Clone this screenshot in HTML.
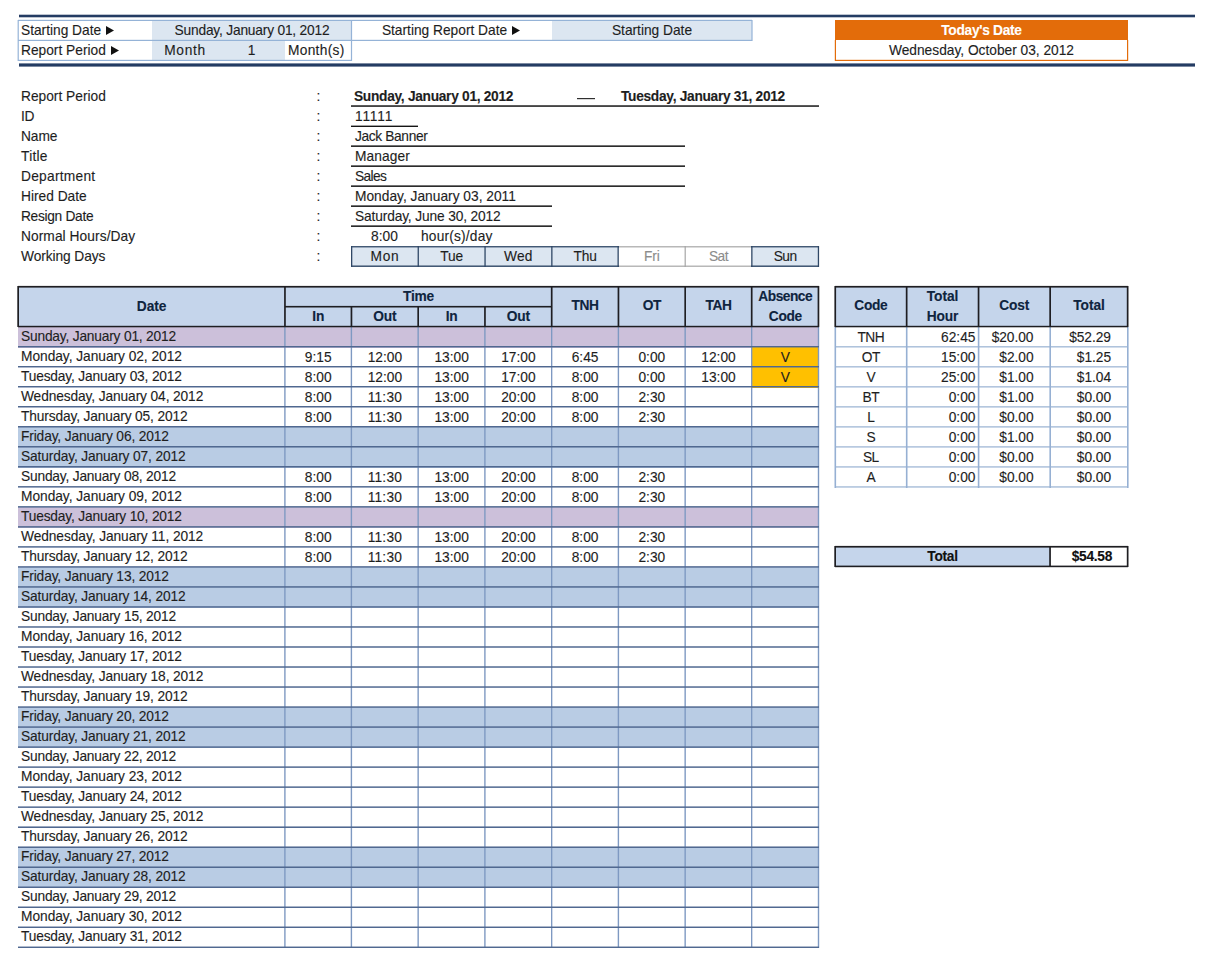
<!DOCTYPE html>
<html><head><meta charset="utf-8"><style>
html,body{margin:0;padding:0;background:#fff;}
body{width:1209px;height:970px;position:relative;overflow:hidden;font-family:"Liberation Sans",sans-serif;font-size:13.75px;color:#1e1e1e;}
body>div,body>svg{position:absolute;}
.t{white-space:nowrap;-webkit-text-stroke:0.12px currentColor;}
</style></head><body>
<div style="left:19px;top:14px;width:1176px;height:1px;background:rgba(36,60,99,0.30);"></div>
<div style="left:19px;top:15px;width:1176px;height:1px;background:#243c63;"></div>
<div style="left:19px;top:16px;width:1176px;height:1px;background:#243c63;"></div>
<div style="left:19px;top:17px;width:1176px;height:1px;background:rgba(36,60,99,0.30);"></div>
<div style="left:19px;top:63px;width:1176px;height:1px;background:rgba(36,60,99,0.60);"></div>
<div style="left:19px;top:64px;width:1176px;height:1px;background:#243c63;"></div>
<div style="left:19px;top:65px;width:1176px;height:1px;background:#243c63;"></div>
<div style="left:19px;top:66px;width:1176px;height:1px;background:rgba(36,60,99,0.60);"></div>
<div style="left:152px;top:21px;width:200px;height:19px;background:#dce6f1;"></div>
<div style="left:152px;top:41px;width:133px;height:19px;background:#dce6f1;"></div>
<div style="left:552px;top:21px;width:200px;height:19px;background:#dce6f1;"></div>
<div style="left:18px;top:19px;width:734px;height:1px;background:rgba(149,179,215,0.20);"></div>
<div style="left:18px;top:20px;width:734px;height:1px;background:#95b3d7;"></div>
<div style="left:18px;top:39px;width:734px;height:1px;background:rgba(149,179,215,0.20);"></div>
<div style="left:18px;top:40px;width:734px;height:1px;background:#95b3d7;"></div>
<div style="left:18px;top:59px;width:334px;height:1px;background:rgba(149,179,215,0.20);"></div>
<div style="left:18px;top:60px;width:334px;height:1px;background:#95b3d7;"></div>
<div style="left:17px;top:20px;width:1px;height:41px;background:rgba(149,179,215,0.40);"></div>
<div style="left:18px;top:20px;width:1px;height:41px;background:rgba(149,179,215,0.80);"></div>
<div style="left:350px;top:20px;width:1px;height:41px;background:rgba(149,179,215,0.10);"></div>
<div style="left:351px;top:20px;width:1px;height:41px;background:#95b3d7;"></div>
<div style="left:352px;top:20px;width:1px;height:41px;background:rgba(149,179,215,0.10);"></div>
<div style="left:751px;top:20px;width:1px;height:21px;background:rgba(149,179,215,0.60);"></div>
<div style="left:752px;top:20px;width:1px;height:21px;background:rgba(149,179,215,0.60);"></div>
<div class="t" style="left:21px;top:21px;width:200px;height:20px;line-height:20px;text-align:left;letter-spacing:-0.010px;">Starting Date</div>
<svg style="left:106px;top:26px" width="8" height="9" viewBox="0 0 8 9"><path d="M0 0L8 4.5L0 9Z" fill="#111"/></svg>
<div class="t" style="left:21px;top:41px;width:200px;height:20px;line-height:20px;text-align:left;letter-spacing:-0.001px;">Report Period</div>
<svg style="left:111px;top:46px" width="8" height="9" viewBox="0 0 8 9"><path d="M0 0L8 4.5L0 9Z" fill="#111"/></svg>
<div class="t" style="left:152px;top:21px;width:200px;height:20px;line-height:20px;text-align:center;letter-spacing:-0.192px;">Sunday, January 01, 2012</div>
<div class="t" style="left:152px;top:41px;width:66px;height:20px;line-height:20px;text-align:center;letter-spacing:0.671px;">Month</div>
<div class="t" style="left:218px;top:41px;width:67px;height:20px;line-height:20px;text-align:center;letter-spacing:-0.044px;">1</div>
<div class="t" style="left:288px;top:41px;width:70px;height:20px;line-height:20px;text-align:left;letter-spacing:0.288px;">Month(s)</div>
<div class="t" style="left:352px;top:21px;width:185px;height:20px;line-height:20px;text-align:center;letter-spacing:-0.005px;">Starting Report Date</div>
<svg style="left:512px;top:26px" width="8" height="9" viewBox="0 0 8 9"><path d="M0 0L8 4.5L0 9Z" fill="#111"/></svg>
<div class="t" style="left:552px;top:21px;width:200px;height:20px;line-height:20px;text-align:center;letter-spacing:-0.010px;">Starting Date</div>
<div style="left:835px;top:20px;width:293px;height:20px;background:#e36c0a;"></div>
<div style="left:834px;top:40px;width:1px;height:21px;background:rgba(227,108,10,0.20);"></div>
<div style="left:835px;top:40px;width:1px;height:21px;background:#e36c0a;"></div>
<div style="left:1127px;top:40px;width:1px;height:21px;background:#e36c0a;"></div>
<div style="left:1128px;top:40px;width:1px;height:21px;background:rgba(227,108,10,0.20);"></div>
<div style="left:835px;top:59px;width:293px;height:1px;background:rgba(227,108,10,0.20);"></div>
<div style="left:835px;top:60px;width:293px;height:1px;background:#e36c0a;"></div>
<div class="t" style="left:835px;top:21px;width:293px;height:20px;line-height:20px;text-align:center;font-weight:bold;color:#ffffff;letter-spacing:-0.300px;">Today's Date</div>
<div class="t" style="left:835px;top:41px;width:293px;height:20px;line-height:20px;text-align:center;letter-spacing:-0.008px;">Wednesday, October 03, 2012</div>
<div class="t" style="left:21px;top:87px;width:260px;height:20px;line-height:20px;text-align:left;letter-spacing:-0.001px;">Report Period</div>
<div class="t" style="left:285px;top:87px;width:67px;height:20px;line-height:20px;text-align:center;letter-spacing:0.191px;">:</div>
<div class="t" style="left:21px;top:107px;width:260px;height:20px;line-height:20px;text-align:left;letter-spacing:-0.363px;">ID</div>
<div class="t" style="left:285px;top:107px;width:67px;height:20px;line-height:20px;text-align:center;letter-spacing:0.191px;">:</div>
<div class="t" style="left:21px;top:127px;width:260px;height:20px;line-height:20px;text-align:left;letter-spacing:-0.082px;">Name</div>
<div class="t" style="left:285px;top:127px;width:67px;height:20px;line-height:20px;text-align:center;letter-spacing:0.191px;">:</div>
<div class="t" style="left:21px;top:147px;width:260px;height:20px;line-height:20px;text-align:left;letter-spacing:0.249px;">Title</div>
<div class="t" style="left:285px;top:147px;width:67px;height:20px;line-height:20px;text-align:center;letter-spacing:0.191px;">:</div>
<div class="t" style="left:21px;top:167px;width:260px;height:20px;line-height:20px;text-align:left;letter-spacing:0.261px;">Department</div>
<div class="t" style="left:285px;top:167px;width:67px;height:20px;line-height:20px;text-align:center;letter-spacing:0.191px;">:</div>
<div class="t" style="left:21px;top:187px;width:260px;height:20px;line-height:20px;text-align:left;letter-spacing:0.000px;">Hired Date</div>
<div class="t" style="left:285px;top:187px;width:67px;height:20px;line-height:20px;text-align:center;letter-spacing:0.191px;">:</div>
<div class="t" style="left:21px;top:207px;width:260px;height:20px;line-height:20px;text-align:left;letter-spacing:-0.312px;">Resign Date</div>
<div class="t" style="left:285px;top:207px;width:67px;height:20px;line-height:20px;text-align:center;letter-spacing:0.191px;">:</div>
<div class="t" style="left:21px;top:227px;width:260px;height:20px;line-height:20px;text-align:left;letter-spacing:0.069px;">Normal Hours/Day</div>
<div class="t" style="left:285px;top:227px;width:67px;height:20px;line-height:20px;text-align:center;letter-spacing:0.191px;">:</div>
<div class="t" style="left:21px;top:247px;width:260px;height:20px;line-height:20px;text-align:left;letter-spacing:-0.089px;">Working Days</div>
<div class="t" style="left:285px;top:247px;width:67px;height:20px;line-height:20px;text-align:center;letter-spacing:0.191px;">:</div>
<div class="t" style="left:354px;top:87px;width:200px;height:20px;line-height:20px;text-align:left;font-weight:bold;letter-spacing:-0.300px;">Sunday, January 01, 2012</div>
<div style="left:577px;top:98px;width:18px;height:1px;background:#303030;"></div>
<div style="left:577px;top:99px;width:18px;height:1px;background:rgba(48,48,48,0.20);"></div>
<div class="t" style="left:621px;top:87px;width:200px;height:20px;line-height:20px;text-align:left;font-weight:bold;letter-spacing:-0.300px;">Tuesday, January 31, 2012</div>
<div style="left:351px;top:105px;width:468px;height:1px;background:rgba(21,21,21,0.70);"></div>
<div style="left:351px;top:106px;width:468px;height:1px;background:rgba(21,21,21,0.80);"></div>
<div class="t" style="left:355px;top:107px;width:100px;height:20px;line-height:20px;text-align:left;letter-spacing:0.781px;">11111</div>
<div style="left:351px;top:125px;width:67px;height:1px;background:rgba(21,21,21,0.40);"></div>
<div style="left:351px;top:126px;width:67px;height:1px;background:#151515;"></div>
<div class="t" style="left:355px;top:127px;width:300px;height:20px;line-height:20px;text-align:left;letter-spacing:-0.366px;">Jack Banner</div>
<div style="left:351px;top:145px;width:334px;height:1px;background:rgba(21,21,21,0.60);"></div>
<div style="left:351px;top:146px;width:334px;height:1px;background:rgba(21,21,21,0.90);"></div>
<div class="t" style="left:355px;top:147px;width:300px;height:20px;line-height:20px;text-align:left;letter-spacing:0.088px;">Manager</div>
<div style="left:351px;top:165px;width:334px;height:1px;background:rgba(21,21,21,0.60);"></div>
<div style="left:351px;top:166px;width:334px;height:1px;background:rgba(21,21,21,0.90);"></div>
<div class="t" style="left:355px;top:167px;width:300px;height:20px;line-height:20px;text-align:left;letter-spacing:-0.600px;">Sales</div>
<div style="left:351px;top:185px;width:334px;height:1px;background:rgba(21,21,21,0.60);"></div>
<div style="left:351px;top:186px;width:334px;height:1px;background:rgba(21,21,21,0.90);"></div>
<div class="t" style="left:355px;top:187px;width:300px;height:20px;line-height:20px;text-align:left;letter-spacing:0.004px;">Monday, January 03, 2011</div>
<div style="left:351px;top:205px;width:201px;height:1px;background:rgba(21,21,21,0.60);"></div>
<div style="left:351px;top:206px;width:201px;height:1px;background:rgba(21,21,21,0.90);"></div>
<div class="t" style="left:355px;top:207px;width:300px;height:20px;line-height:20px;text-align:left;letter-spacing:-0.143px;">Saturday, June 30, 2012</div>
<div style="left:351px;top:225px;width:201px;height:1px;background:rgba(21,21,21,0.60);"></div>
<div style="left:351px;top:226px;width:201px;height:1px;background:rgba(21,21,21,0.90);"></div>
<div class="t" style="left:351px;top:227px;width:67px;height:20px;line-height:20px;text-align:center;letter-spacing:0.022px;">8:00</div>
<div class="t" style="left:421px;top:227px;width:150px;height:20px;line-height:20px;text-align:left;letter-spacing:0.187px;">hour(s)/day</div>
<div style="left:352px;top:247px;width:66px;height:19px;background:#dce6f1;"></div>
<div class="t" style="left:351.5px;top:247px;width:66.75px;height:20px;line-height:20px;text-align:center;letter-spacing:0.634px;">Mon</div>
<div style="left:418px;top:247px;width:67px;height:19px;background:#dce6f1;"></div>
<div class="t" style="left:418.25px;top:247px;width:66.75px;height:20px;line-height:20px;text-align:center;letter-spacing:-0.168px;">Tue</div>
<div style="left:485px;top:247px;width:67px;height:19px;background:#dce6f1;"></div>
<div class="t" style="left:485px;top:247px;width:66.75px;height:20px;line-height:20px;text-align:center;letter-spacing:0.231px;">Wed</div>
<div style="left:552px;top:247px;width:66px;height:19px;background:#dce6f1;"></div>
<div class="t" style="left:551.75px;top:247px;width:66.75px;height:20px;line-height:20px;text-align:center;letter-spacing:-0.201px;">Thu</div>
<div class="t" style="left:618.5px;top:247px;width:66.75px;height:20px;line-height:20px;text-align:center;color:#8c8c8c;letter-spacing:-0.154px;">Fri</div>
<div class="t" style="left:685.25px;top:247px;width:66.5px;height:20px;line-height:20px;text-align:center;color:#8c8c8c;letter-spacing:-0.505px;">Sat</div>
<div style="left:752px;top:247px;width:66px;height:19px;background:#dce6f1;"></div>
<div class="t" style="left:751.75px;top:247px;width:66.75px;height:20px;line-height:20px;text-align:center;letter-spacing:-0.595px;">Sun</div>
<div style="left:618px;top:246px;width:134px;height:1px;background:rgba(166,166,166,0.80);"></div>
<div style="left:618px;top:247px;width:134px;height:1px;background:rgba(166,166,166,0.40);"></div>
<div style="left:618px;top:265px;width:134px;height:1px;background:rgba(166,166,166,0.40);"></div>
<div style="left:618px;top:266px;width:134px;height:1px;background:rgba(166,166,166,0.80);"></div>
<div style="left:684px;top:246px;width:1px;height:21px;background:rgba(166,166,166,0.40);"></div>
<div style="left:685px;top:246px;width:1px;height:21px;background:rgba(166,166,166,0.80);"></div>
<div style="left:351px;top:246px;width:268px;height:1px;background:rgba(47,71,102,0.90);"></div>
<div style="left:351px;top:247px;width:268px;height:1px;background:rgba(47,71,102,0.40);"></div>
<div style="left:351px;top:265px;width:268px;height:1px;background:rgba(47,71,102,0.50);"></div>
<div style="left:351px;top:266px;width:268px;height:1px;background:rgba(47,71,102,0.90);"></div>
<div style="left:351px;top:246px;width:1px;height:21px;background:#2f4766;"></div>
<div style="left:352px;top:246px;width:1px;height:21px;background:rgba(47,71,102,0.30);"></div>
<div style="left:417px;top:246px;width:1px;height:21px;background:rgba(47,71,102,0.40);"></div>
<div style="left:418px;top:246px;width:1px;height:21px;background:rgba(47,71,102,0.90);"></div>
<div style="left:484px;top:246px;width:1px;height:21px;background:rgba(47,71,102,0.60);"></div>
<div style="left:485px;top:246px;width:1px;height:21px;background:rgba(47,71,102,0.70);"></div>
<div style="left:551px;top:246px;width:1px;height:21px;background:rgba(47,71,102,0.80);"></div>
<div style="left:552px;top:246px;width:1px;height:21px;background:rgba(47,71,102,0.50);"></div>
<div style="left:617px;top:246px;width:1px;height:21px;background:rgba(47,71,102,0.50);"></div>
<div style="left:618px;top:246px;width:1px;height:21px;background:rgba(47,71,102,0.80);"></div>
<div style="left:751px;top:246px;width:68px;height:1px;background:rgba(47,71,102,0.90);"></div>
<div style="left:751px;top:247px;width:68px;height:1px;background:rgba(47,71,102,0.40);"></div>
<div style="left:751px;top:265px;width:68px;height:1px;background:rgba(47,71,102,0.50);"></div>
<div style="left:751px;top:266px;width:68px;height:1px;background:rgba(47,71,102,0.90);"></div>
<div style="left:751px;top:246px;width:1px;height:21px;background:rgba(47,71,102,0.80);"></div>
<div style="left:752px;top:246px;width:1px;height:21px;background:rgba(47,71,102,0.50);"></div>
<div style="left:817px;top:246px;width:1px;height:21px;background:rgba(47,71,102,0.20);"></div>
<div style="left:818px;top:246px;width:1px;height:21px;background:#2f4766;"></div>
<div style="left:819px;top:246px;width:1px;height:21px;background:rgba(47,71,102,0.10);"></div>
<div style="left:18px;top:287px;width:801px;height:40px;background:#c5d5eb;"></div>
<div style="left:18px;top:327px;width:801px;height:21px;background:#ccc0da;"></div>
<div style="left:18px;top:427px;width:801px;height:21px;background:#b9cce4;"></div>
<div style="left:18px;top:447px;width:801px;height:21px;background:#b9cce4;"></div>
<div style="left:18px;top:507px;width:801px;height:21px;background:#ccc0da;"></div>
<div style="left:18px;top:567px;width:801px;height:21px;background:#b9cce4;"></div>
<div style="left:18px;top:587px;width:801px;height:21px;background:#b9cce4;"></div>
<div style="left:18px;top:707px;width:801px;height:21px;background:#b9cce4;"></div>
<div style="left:18px;top:727px;width:801px;height:21px;background:#b9cce4;"></div>
<div style="left:18px;top:847px;width:801px;height:21px;background:#b9cce4;"></div>
<div style="left:18px;top:867px;width:801px;height:21px;background:#b9cce4;"></div>
<div style="left:752px;top:347px;width:66px;height:21px;background:#ffc000;"></div>
<div style="left:752px;top:367px;width:66px;height:21px;background:#ffc000;"></div>
<div style="left:284px;top:327px;width:1px;height:621px;background:rgba(126,153,194,0.80);"></div>
<div style="left:285px;top:327px;width:1px;height:621px;background:rgba(126,153,194,0.60);"></div>
<div style="left:350px;top:327px;width:1px;height:621px;background:rgba(126,153,194,0.30);"></div>
<div style="left:351px;top:327px;width:1px;height:621px;background:#7e99c2;"></div>
<div style="left:352px;top:327px;width:1px;height:621px;background:rgba(126,153,194,0.10);"></div>
<div style="left:417px;top:327px;width:1px;height:621px;background:rgba(126,153,194,0.55);"></div>
<div style="left:418px;top:327px;width:1px;height:621px;background:rgba(126,153,194,0.85);"></div>
<div style="left:484px;top:327px;width:1px;height:621px;background:rgba(126,153,194,0.80);"></div>
<div style="left:485px;top:327px;width:1px;height:621px;background:rgba(126,153,194,0.60);"></div>
<div style="left:551px;top:327px;width:1px;height:621px;background:#7e99c2;"></div>
<div style="left:552px;top:327px;width:1px;height:621px;background:rgba(126,153,194,0.35);"></div>
<div style="left:617px;top:327px;width:1px;height:621px;background:rgba(126,153,194,0.30);"></div>
<div style="left:618px;top:327px;width:1px;height:621px;background:#7e99c2;"></div>
<div style="left:619px;top:327px;width:1px;height:621px;background:rgba(126,153,194,0.10);"></div>
<div style="left:684px;top:327px;width:1px;height:621px;background:rgba(126,153,194,0.55);"></div>
<div style="left:685px;top:327px;width:1px;height:621px;background:rgba(126,153,194,0.85);"></div>
<div style="left:751px;top:327px;width:1px;height:621px;background:#7e99c2;"></div>
<div style="left:752px;top:327px;width:1px;height:621px;background:rgba(126,153,194,0.35);"></div>
<div style="left:817px;top:327px;width:1px;height:621px;background:rgba(126,153,194,0.20);"></div>
<div style="left:818px;top:327px;width:1px;height:621px;background:#7e99c2;"></div>
<div style="left:819px;top:327px;width:1px;height:621px;background:rgba(126,153,194,0.20);"></div>
<div style="left:18px;top:346px;width:801px;height:1px;background:#506890;"></div>
<div style="left:18px;top:347px;width:801px;height:1px;background:rgba(80,104,144,0.45);"></div>
<div style="left:18px;top:366px;width:801px;height:1px;background:#506890;"></div>
<div style="left:18px;top:367px;width:801px;height:1px;background:rgba(80,104,144,0.47);"></div>
<div style="left:18px;top:386px;width:801px;height:1px;background:#506890;"></div>
<div style="left:18px;top:387px;width:801px;height:1px;background:rgba(80,104,144,0.49);"></div>
<div style="left:18px;top:406px;width:801px;height:1px;background:#506890;"></div>
<div style="left:18px;top:407px;width:801px;height:1px;background:rgba(80,104,144,0.51);"></div>
<div style="left:18px;top:426px;width:801px;height:1px;background:#506890;"></div>
<div style="left:18px;top:427px;width:801px;height:1px;background:rgba(80,104,144,0.53);"></div>
<div style="left:18px;top:446px;width:801px;height:1px;background:#506890;"></div>
<div style="left:18px;top:447px;width:801px;height:1px;background:rgba(80,104,144,0.55);"></div>
<div style="left:18px;top:466px;width:801px;height:1px;background:#506890;"></div>
<div style="left:18px;top:467px;width:801px;height:1px;background:rgba(80,104,144,0.57);"></div>
<div style="left:18px;top:486px;width:801px;height:1px;background:rgba(80,104,144,0.91);"></div>
<div style="left:18px;top:487px;width:801px;height:1px;background:rgba(80,104,144,0.59);"></div>
<div style="left:18px;top:506px;width:801px;height:1px;background:rgba(80,104,144,0.89);"></div>
<div style="left:18px;top:507px;width:801px;height:1px;background:rgba(80,104,144,0.61);"></div>
<div style="left:18px;top:526px;width:801px;height:1px;background:rgba(80,104,144,0.87);"></div>
<div style="left:18px;top:527px;width:801px;height:1px;background:rgba(80,104,144,0.63);"></div>
<div style="left:18px;top:546px;width:801px;height:1px;background:rgba(80,104,144,0.85);"></div>
<div style="left:18px;top:547px;width:801px;height:1px;background:rgba(80,104,144,0.65);"></div>
<div style="left:18px;top:566px;width:801px;height:1px;background:rgba(80,104,144,0.83);"></div>
<div style="left:18px;top:567px;width:801px;height:1px;background:rgba(80,104,144,0.67);"></div>
<div style="left:18px;top:586px;width:801px;height:1px;background:rgba(80,104,144,0.81);"></div>
<div style="left:18px;top:587px;width:801px;height:1px;background:rgba(80,104,144,0.69);"></div>
<div style="left:18px;top:606px;width:801px;height:1px;background:rgba(80,104,144,0.79);"></div>
<div style="left:18px;top:607px;width:801px;height:1px;background:rgba(80,104,144,0.71);"></div>
<div style="left:18px;top:626px;width:801px;height:1px;background:rgba(80,104,144,0.77);"></div>
<div style="left:18px;top:627px;width:801px;height:1px;background:rgba(80,104,144,0.73);"></div>
<div style="left:18px;top:646px;width:801px;height:1px;background:rgba(80,104,144,0.75);"></div>
<div style="left:18px;top:647px;width:801px;height:1px;background:rgba(80,104,144,0.75);"></div>
<div style="left:18px;top:666px;width:801px;height:1px;background:rgba(80,104,144,0.73);"></div>
<div style="left:18px;top:667px;width:801px;height:1px;background:rgba(80,104,144,0.77);"></div>
<div style="left:18px;top:686px;width:801px;height:1px;background:rgba(80,104,144,0.71);"></div>
<div style="left:18px;top:687px;width:801px;height:1px;background:rgba(80,104,144,0.79);"></div>
<div style="left:18px;top:706px;width:801px;height:1px;background:rgba(80,104,144,0.69);"></div>
<div style="left:18px;top:707px;width:801px;height:1px;background:rgba(80,104,144,0.81);"></div>
<div style="left:18px;top:726px;width:801px;height:1px;background:rgba(80,104,144,0.67);"></div>
<div style="left:18px;top:727px;width:801px;height:1px;background:rgba(80,104,144,0.83);"></div>
<div style="left:18px;top:746px;width:801px;height:1px;background:rgba(80,104,144,0.65);"></div>
<div style="left:18px;top:747px;width:801px;height:1px;background:rgba(80,104,144,0.85);"></div>
<div style="left:18px;top:766px;width:801px;height:1px;background:rgba(80,104,144,0.63);"></div>
<div style="left:18px;top:767px;width:801px;height:1px;background:rgba(80,104,144,0.87);"></div>
<div style="left:18px;top:786px;width:801px;height:1px;background:rgba(80,104,144,0.61);"></div>
<div style="left:18px;top:787px;width:801px;height:1px;background:rgba(80,104,144,0.89);"></div>
<div style="left:18px;top:806px;width:801px;height:1px;background:rgba(80,104,144,0.59);"></div>
<div style="left:18px;top:807px;width:801px;height:1px;background:rgba(80,104,144,0.91);"></div>
<div style="left:18px;top:826px;width:801px;height:1px;background:rgba(80,104,144,0.57);"></div>
<div style="left:18px;top:827px;width:801px;height:1px;background:#506890;"></div>
<div style="left:18px;top:846px;width:801px;height:1px;background:rgba(80,104,144,0.55);"></div>
<div style="left:18px;top:847px;width:801px;height:1px;background:#506890;"></div>
<div style="left:18px;top:866px;width:801px;height:1px;background:rgba(80,104,144,0.53);"></div>
<div style="left:18px;top:867px;width:801px;height:1px;background:#506890;"></div>
<div style="left:18px;top:886px;width:801px;height:1px;background:rgba(80,104,144,0.51);"></div>
<div style="left:18px;top:887px;width:801px;height:1px;background:#506890;"></div>
<div style="left:18px;top:906px;width:801px;height:1px;background:rgba(80,104,144,0.49);"></div>
<div style="left:18px;top:907px;width:801px;height:1px;background:#506890;"></div>
<div style="left:18px;top:926px;width:801px;height:1px;background:rgba(80,104,144,0.47);"></div>
<div style="left:18px;top:927px;width:801px;height:1px;background:#506890;"></div>
<div style="left:18px;top:946px;width:801px;height:1px;background:rgba(80,104,144,0.45);"></div>
<div style="left:18px;top:947px;width:801px;height:1px;background:#506890;"></div>
<div style="left:18px;top:285px;width:801px;height:1px;background:rgba(30,30,34,0.10);"></div>
<div style="left:18px;top:286px;width:801px;height:1px;background:#1e1e22;"></div>
<div style="left:18px;top:287px;width:801px;height:1px;background:rgba(30,30,34,0.60);"></div>
<div style="left:18px;top:325px;width:801px;height:1px;background:rgba(30,30,34,0.20);"></div>
<div style="left:18px;top:326px;width:801px;height:1px;background:#1e1e22;"></div>
<div style="left:18px;top:327px;width:801px;height:1px;background:rgba(30,30,34,0.30);"></div>
<div style="left:285px;top:305px;width:267px;height:1px;background:rgba(30,30,34,0.10);"></div>
<div style="left:285px;top:306px;width:267px;height:1px;background:#1e1e22;"></div>
<div style="left:285px;top:307px;width:267px;height:1px;background:rgba(30,30,34,0.50);"></div>
<div style="left:17px;top:286px;width:1px;height:41px;background:rgba(30,30,34,0.70);"></div>
<div style="left:18px;top:286px;width:1px;height:41px;background:#1e1e22;"></div>
<div style="left:817px;top:286px;width:1px;height:41px;background:rgba(30,30,34,0.40);"></div>
<div style="left:818px;top:286px;width:1px;height:41px;background:#1e1e22;"></div>
<div style="left:819px;top:286px;width:1px;height:41px;background:rgba(30,30,34,0.30);"></div>
<div style="left:284px;top:286px;width:1px;height:41px;background:rgba(30,30,34,0.90);"></div>
<div style="left:285px;top:286px;width:1px;height:41px;background:rgba(30,30,34,0.80);"></div>
<div style="left:550px;top:286px;width:1px;height:41px;background:rgba(30,30,34,0.15);"></div>
<div style="left:551px;top:286px;width:1px;height:41px;background:#1e1e22;"></div>
<div style="left:552px;top:286px;width:1px;height:41px;background:rgba(30,30,34,0.55);"></div>
<div style="left:617px;top:286px;width:1px;height:41px;background:rgba(30,30,34,0.40);"></div>
<div style="left:618px;top:286px;width:1px;height:41px;background:#1e1e22;"></div>
<div style="left:619px;top:286px;width:1px;height:41px;background:rgba(30,30,34,0.30);"></div>
<div style="left:684px;top:286px;width:1px;height:41px;background:rgba(30,30,34,0.65);"></div>
<div style="left:685px;top:286px;width:1px;height:41px;background:#1e1e22;"></div>
<div style="left:750px;top:286px;width:1px;height:41px;background:rgba(30,30,34,0.15);"></div>
<div style="left:751px;top:286px;width:1px;height:41px;background:#1e1e22;"></div>
<div style="left:752px;top:286px;width:1px;height:41px;background:rgba(30,30,34,0.55);"></div>
<div style="left:350px;top:306px;width:1px;height:21px;background:rgba(30,30,34,0.40);"></div>
<div style="left:351px;top:306px;width:1px;height:21px;background:#1e1e22;"></div>
<div style="left:352px;top:306px;width:1px;height:21px;background:rgba(30,30,34,0.30);"></div>
<div style="left:417px;top:306px;width:1px;height:21px;background:rgba(30,30,34,0.65);"></div>
<div style="left:418px;top:306px;width:1px;height:21px;background:#1e1e22;"></div>
<div style="left:484px;top:306px;width:1px;height:21px;background:rgba(30,30,34,0.90);"></div>
<div style="left:485px;top:306px;width:1px;height:21px;background:rgba(30,30,34,0.80);"></div>
<div class="t" style="left:18px;top:297px;width:267px;height:20px;line-height:20px;text-align:center;font-weight:bold;color:#0f243e;letter-spacing:-0.100px;">Date</div>
<div class="t" style="left:285px;top:287px;width:267px;height:20px;line-height:20px;text-align:center;font-weight:bold;color:#0f243e;letter-spacing:-0.200px;">Time</div>
<div class="t" style="left:285px;top:307px;width:66.5px;height:20px;line-height:20px;text-align:center;font-weight:bold;color:#0f243e;letter-spacing:-0.200px;">In</div>
<div class="t" style="left:351.5px;top:307px;width:66.75px;height:20px;line-height:20px;text-align:center;font-weight:bold;color:#0f243e;letter-spacing:-0.200px;">Out</div>
<div class="t" style="left:418.25px;top:307px;width:66.75px;height:20px;line-height:20px;text-align:center;font-weight:bold;color:#0f243e;letter-spacing:-0.200px;">In</div>
<div class="t" style="left:485px;top:307px;width:66.75px;height:20px;line-height:20px;text-align:center;font-weight:bold;color:#0f243e;letter-spacing:-0.200px;">Out</div>
<div class="t" style="left:551.75px;top:296px;width:66.75px;height:20px;line-height:20px;text-align:center;font-weight:bold;color:#0f243e;letter-spacing:-0.400px;">TNH</div>
<div class="t" style="left:618.5px;top:296px;width:66.75px;height:20px;line-height:20px;text-align:center;font-weight:bold;color:#0f243e;letter-spacing:-0.400px;">OT</div>
<div class="t" style="left:685.25px;top:296px;width:66.5px;height:20px;line-height:20px;text-align:center;font-weight:bold;color:#0f243e;letter-spacing:-0.400px;">TAH</div>
<div class="t" style="left:751.75px;top:287px;width:67px;height:20px;line-height:20px;text-align:center;font-weight:bold;color:#0f243e;letter-spacing:-0.500px;">Absence</div>
<div class="t" style="left:751.75px;top:307px;width:67px;height:20px;line-height:20px;text-align:center;font-weight:bold;color:#0f243e;letter-spacing:-0.400px;">Code</div>
<div class="t" style="left:21px;top:327px;width:260px;height:20px;line-height:20px;text-align:left;letter-spacing:-0.192px;">Sunday, January 01, 2012</div>
<div class="t" style="left:21px;top:347px;width:260px;height:20px;line-height:20px;text-align:left;letter-spacing:-0.039px;">Monday, January 02, 2012</div>
<div class="t" style="left:285px;top:348px;width:66.5px;height:20px;line-height:20px;text-align:center;letter-spacing:0.022px;">9:15</div>
<div class="t" style="left:351.5px;top:348px;width:66.75px;height:20px;line-height:20px;text-align:center;letter-spacing:0.009px;">12:00</div>
<div class="t" style="left:418.25px;top:348px;width:66.75px;height:20px;line-height:20px;text-align:center;letter-spacing:0.009px;">13:00</div>
<div class="t" style="left:485px;top:348px;width:66.75px;height:20px;line-height:20px;text-align:center;letter-spacing:0.009px;">17:00</div>
<div class="t" style="left:551.75px;top:348px;width:66.75px;height:20px;line-height:20px;text-align:center;letter-spacing:0.022px;">6:45</div>
<div class="t" style="left:618.5px;top:348px;width:66.75px;height:20px;line-height:20px;text-align:center;letter-spacing:0.022px;">0:00</div>
<div class="t" style="left:685.25px;top:348px;width:66.5px;height:20px;line-height:20px;text-align:center;letter-spacing:0.009px;">12:00</div>
<div class="t" style="left:751.75px;top:348px;width:66.75px;height:20px;line-height:20px;text-align:center;letter-spacing:-0.600px;">V</div>
<div class="t" style="left:21px;top:367px;width:260px;height:20px;line-height:20px;text-align:left;letter-spacing:-0.173px;">Tuesday, January 03, 2012</div>
<div class="t" style="left:285px;top:368px;width:66.5px;height:20px;line-height:20px;text-align:center;letter-spacing:0.022px;">8:00</div>
<div class="t" style="left:351.5px;top:368px;width:66.75px;height:20px;line-height:20px;text-align:center;letter-spacing:0.009px;">12:00</div>
<div class="t" style="left:418.25px;top:368px;width:66.75px;height:20px;line-height:20px;text-align:center;letter-spacing:0.009px;">13:00</div>
<div class="t" style="left:485px;top:368px;width:66.75px;height:20px;line-height:20px;text-align:center;letter-spacing:0.009px;">17:00</div>
<div class="t" style="left:551.75px;top:368px;width:66.75px;height:20px;line-height:20px;text-align:center;letter-spacing:0.022px;">8:00</div>
<div class="t" style="left:618.5px;top:368px;width:66.75px;height:20px;line-height:20px;text-align:center;letter-spacing:0.022px;">0:00</div>
<div class="t" style="left:685.25px;top:368px;width:66.5px;height:20px;line-height:20px;text-align:center;letter-spacing:0.009px;">13:00</div>
<div class="t" style="left:751.75px;top:368px;width:66.75px;height:20px;line-height:20px;text-align:center;letter-spacing:-0.600px;">V</div>
<div class="t" style="left:21px;top:387px;width:260px;height:20px;line-height:20px;text-align:left;letter-spacing:-0.113px;">Wednesday, January 04, 2012</div>
<div class="t" style="left:285px;top:388px;width:66.5px;height:20px;line-height:20px;text-align:center;letter-spacing:0.022px;">8:00</div>
<div class="t" style="left:351.5px;top:388px;width:66.75px;height:20px;line-height:20px;text-align:center;letter-spacing:0.215px;">11:30</div>
<div class="t" style="left:418.25px;top:388px;width:66.75px;height:20px;line-height:20px;text-align:center;letter-spacing:0.009px;">13:00</div>
<div class="t" style="left:485px;top:388px;width:66.75px;height:20px;line-height:20px;text-align:center;letter-spacing:0.009px;">20:00</div>
<div class="t" style="left:551.75px;top:388px;width:66.75px;height:20px;line-height:20px;text-align:center;letter-spacing:0.022px;">8:00</div>
<div class="t" style="left:618.5px;top:388px;width:66.75px;height:20px;line-height:20px;text-align:center;letter-spacing:0.022px;">2:30</div>
<div class="t" style="left:21px;top:407px;width:260px;height:20px;line-height:20px;text-align:left;letter-spacing:-0.145px;">Thursday, January 05, 2012</div>
<div class="t" style="left:285px;top:408px;width:66.5px;height:20px;line-height:20px;text-align:center;letter-spacing:0.022px;">8:00</div>
<div class="t" style="left:351.5px;top:408px;width:66.75px;height:20px;line-height:20px;text-align:center;letter-spacing:0.215px;">11:30</div>
<div class="t" style="left:418.25px;top:408px;width:66.75px;height:20px;line-height:20px;text-align:center;letter-spacing:0.009px;">13:00</div>
<div class="t" style="left:485px;top:408px;width:66.75px;height:20px;line-height:20px;text-align:center;letter-spacing:0.009px;">20:00</div>
<div class="t" style="left:551.75px;top:408px;width:66.75px;height:20px;line-height:20px;text-align:center;letter-spacing:0.022px;">8:00</div>
<div class="t" style="left:618.5px;top:408px;width:66.75px;height:20px;line-height:20px;text-align:center;letter-spacing:0.022px;">2:30</div>
<div class="t" style="left:21px;top:427px;width:260px;height:20px;line-height:20px;text-align:left;letter-spacing:-0.137px;">Friday, January 06, 2012</div>
<div class="t" style="left:21px;top:447px;width:260px;height:20px;line-height:20px;text-align:left;letter-spacing:-0.132px;">Saturday, January 07, 2012</div>
<div class="t" style="left:21px;top:467px;width:260px;height:20px;line-height:20px;text-align:left;letter-spacing:-0.192px;">Sunday, January 08, 2012</div>
<div class="t" style="left:285px;top:468px;width:66.5px;height:20px;line-height:20px;text-align:center;letter-spacing:0.022px;">8:00</div>
<div class="t" style="left:351.5px;top:468px;width:66.75px;height:20px;line-height:20px;text-align:center;letter-spacing:0.215px;">11:30</div>
<div class="t" style="left:418.25px;top:468px;width:66.75px;height:20px;line-height:20px;text-align:center;letter-spacing:0.009px;">13:00</div>
<div class="t" style="left:485px;top:468px;width:66.75px;height:20px;line-height:20px;text-align:center;letter-spacing:0.009px;">20:00</div>
<div class="t" style="left:551.75px;top:468px;width:66.75px;height:20px;line-height:20px;text-align:center;letter-spacing:0.022px;">8:00</div>
<div class="t" style="left:618.5px;top:468px;width:66.75px;height:20px;line-height:20px;text-align:center;letter-spacing:0.022px;">2:30</div>
<div class="t" style="left:21px;top:487px;width:260px;height:20px;line-height:20px;text-align:left;letter-spacing:-0.039px;">Monday, January 09, 2012</div>
<div class="t" style="left:285px;top:488px;width:66.5px;height:20px;line-height:20px;text-align:center;letter-spacing:0.022px;">8:00</div>
<div class="t" style="left:351.5px;top:488px;width:66.75px;height:20px;line-height:20px;text-align:center;letter-spacing:0.215px;">11:30</div>
<div class="t" style="left:418.25px;top:488px;width:66.75px;height:20px;line-height:20px;text-align:center;letter-spacing:0.009px;">13:00</div>
<div class="t" style="left:485px;top:488px;width:66.75px;height:20px;line-height:20px;text-align:center;letter-spacing:0.009px;">20:00</div>
<div class="t" style="left:551.75px;top:488px;width:66.75px;height:20px;line-height:20px;text-align:center;letter-spacing:0.022px;">8:00</div>
<div class="t" style="left:618.5px;top:488px;width:66.75px;height:20px;line-height:20px;text-align:center;letter-spacing:0.022px;">2:30</div>
<div class="t" style="left:21px;top:507px;width:260px;height:20px;line-height:20px;text-align:left;letter-spacing:-0.173px;">Tuesday, January 10, 2012</div>
<div class="t" style="left:21px;top:527px;width:260px;height:20px;line-height:20px;text-align:left;letter-spacing:-0.076px;">Wednesday, January 11, 2012</div>
<div class="t" style="left:285px;top:528px;width:66.5px;height:20px;line-height:20px;text-align:center;letter-spacing:0.022px;">8:00</div>
<div class="t" style="left:351.5px;top:528px;width:66.75px;height:20px;line-height:20px;text-align:center;letter-spacing:0.215px;">11:30</div>
<div class="t" style="left:418.25px;top:528px;width:66.75px;height:20px;line-height:20px;text-align:center;letter-spacing:0.009px;">13:00</div>
<div class="t" style="left:485px;top:528px;width:66.75px;height:20px;line-height:20px;text-align:center;letter-spacing:0.009px;">20:00</div>
<div class="t" style="left:551.75px;top:528px;width:66.75px;height:20px;line-height:20px;text-align:center;letter-spacing:0.022px;">8:00</div>
<div class="t" style="left:618.5px;top:528px;width:66.75px;height:20px;line-height:20px;text-align:center;letter-spacing:0.022px;">2:30</div>
<div class="t" style="left:21px;top:547px;width:260px;height:20px;line-height:20px;text-align:left;letter-spacing:-0.145px;">Thursday, January 12, 2012</div>
<div class="t" style="left:285px;top:548px;width:66.5px;height:20px;line-height:20px;text-align:center;letter-spacing:0.022px;">8:00</div>
<div class="t" style="left:351.5px;top:548px;width:66.75px;height:20px;line-height:20px;text-align:center;letter-spacing:0.215px;">11:30</div>
<div class="t" style="left:418.25px;top:548px;width:66.75px;height:20px;line-height:20px;text-align:center;letter-spacing:0.009px;">13:00</div>
<div class="t" style="left:485px;top:548px;width:66.75px;height:20px;line-height:20px;text-align:center;letter-spacing:0.009px;">20:00</div>
<div class="t" style="left:551.75px;top:548px;width:66.75px;height:20px;line-height:20px;text-align:center;letter-spacing:0.022px;">8:00</div>
<div class="t" style="left:618.5px;top:548px;width:66.75px;height:20px;line-height:20px;text-align:center;letter-spacing:0.022px;">2:30</div>
<div class="t" style="left:21px;top:567px;width:260px;height:20px;line-height:20px;text-align:left;letter-spacing:-0.137px;">Friday, January 13, 2012</div>
<div class="t" style="left:21px;top:587px;width:260px;height:20px;line-height:20px;text-align:left;letter-spacing:-0.132px;">Saturday, January 14, 2012</div>
<div class="t" style="left:21px;top:607px;width:260px;height:20px;line-height:20px;text-align:left;letter-spacing:-0.192px;">Sunday, January 15, 2012</div>
<div class="t" style="left:21px;top:627px;width:260px;height:20px;line-height:20px;text-align:left;letter-spacing:-0.039px;">Monday, January 16, 2012</div>
<div class="t" style="left:21px;top:647px;width:260px;height:20px;line-height:20px;text-align:left;letter-spacing:-0.173px;">Tuesday, January 17, 2012</div>
<div class="t" style="left:21px;top:667px;width:260px;height:20px;line-height:20px;text-align:left;letter-spacing:-0.113px;">Wednesday, January 18, 2012</div>
<div class="t" style="left:21px;top:687px;width:260px;height:20px;line-height:20px;text-align:left;letter-spacing:-0.145px;">Thursday, January 19, 2012</div>
<div class="t" style="left:21px;top:707px;width:260px;height:20px;line-height:20px;text-align:left;letter-spacing:-0.137px;">Friday, January 20, 2012</div>
<div class="t" style="left:21px;top:727px;width:260px;height:20px;line-height:20px;text-align:left;letter-spacing:-0.132px;">Saturday, January 21, 2012</div>
<div class="t" style="left:21px;top:747px;width:260px;height:20px;line-height:20px;text-align:left;letter-spacing:-0.192px;">Sunday, January 22, 2012</div>
<div class="t" style="left:21px;top:767px;width:260px;height:20px;line-height:20px;text-align:left;letter-spacing:-0.039px;">Monday, January 23, 2012</div>
<div class="t" style="left:21px;top:787px;width:260px;height:20px;line-height:20px;text-align:left;letter-spacing:-0.173px;">Tuesday, January 24, 2012</div>
<div class="t" style="left:21px;top:807px;width:260px;height:20px;line-height:20px;text-align:left;letter-spacing:-0.113px;">Wednesday, January 25, 2012</div>
<div class="t" style="left:21px;top:827px;width:260px;height:20px;line-height:20px;text-align:left;letter-spacing:-0.145px;">Thursday, January 26, 2012</div>
<div class="t" style="left:21px;top:847px;width:260px;height:20px;line-height:20px;text-align:left;letter-spacing:-0.137px;">Friday, January 27, 2012</div>
<div class="t" style="left:21px;top:867px;width:260px;height:20px;line-height:20px;text-align:left;letter-spacing:-0.132px;">Saturday, January 28, 2012</div>
<div class="t" style="left:21px;top:887px;width:260px;height:20px;line-height:20px;text-align:left;letter-spacing:-0.192px;">Sunday, January 29, 2012</div>
<div class="t" style="left:21px;top:907px;width:260px;height:20px;line-height:20px;text-align:left;letter-spacing:-0.039px;">Monday, January 30, 2012</div>
<div class="t" style="left:21px;top:927px;width:260px;height:20px;line-height:20px;text-align:left;letter-spacing:-0.173px;">Tuesday, January 31, 2012</div>
<div style="left:835px;top:287px;width:293px;height:40px;background:#c5d5eb;"></div>
<div style="left:835px;top:346px;width:293px;height:1px;background:rgba(166,188,216,0.90);"></div>
<div style="left:835px;top:347px;width:293px;height:1px;background:rgba(166,188,216,0.50);"></div>
<div style="left:835px;top:366px;width:293px;height:1px;background:rgba(166,188,216,0.88);"></div>
<div style="left:835px;top:367px;width:293px;height:1px;background:rgba(166,188,216,0.52);"></div>
<div style="left:835px;top:386px;width:293px;height:1px;background:rgba(166,188,216,0.86);"></div>
<div style="left:835px;top:387px;width:293px;height:1px;background:rgba(166,188,216,0.54);"></div>
<div style="left:835px;top:406px;width:293px;height:1px;background:rgba(166,188,216,0.84);"></div>
<div style="left:835px;top:407px;width:293px;height:1px;background:rgba(166,188,216,0.56);"></div>
<div style="left:835px;top:426px;width:293px;height:1px;background:rgba(166,188,216,0.82);"></div>
<div style="left:835px;top:427px;width:293px;height:1px;background:rgba(166,188,216,0.58);"></div>
<div style="left:835px;top:446px;width:293px;height:1px;background:rgba(166,188,216,0.80);"></div>
<div style="left:835px;top:447px;width:293px;height:1px;background:rgba(166,188,216,0.60);"></div>
<div style="left:835px;top:466px;width:293px;height:1px;background:rgba(166,188,216,0.78);"></div>
<div style="left:835px;top:467px;width:293px;height:1px;background:rgba(166,188,216,0.62);"></div>
<div style="left:835px;top:486px;width:293px;height:1px;background:rgba(166,188,216,0.76);"></div>
<div style="left:835px;top:487px;width:293px;height:1px;background:rgba(166,188,216,0.64);"></div>
<div style="left:834px;top:327px;width:1px;height:161px;background:rgba(150,176,211,0.50);"></div>
<div style="left:835px;top:327px;width:1px;height:161px;background:#96b0d3;"></div>
<div style="left:836px;top:327px;width:1px;height:161px;background:rgba(150,176,211,0.10);"></div>
<div style="left:905px;top:327px;width:1px;height:161px;background:rgba(150,176,211,0.10);"></div>
<div style="left:906px;top:327px;width:1px;height:161px;background:#96b0d3;"></div>
<div style="left:907px;top:327px;width:1px;height:161px;background:rgba(150,176,211,0.50);"></div>
<div style="left:977px;top:327px;width:1px;height:161px;background:rgba(150,176,211,0.20);"></div>
<div style="left:978px;top:327px;width:1px;height:161px;background:#96b0d3;"></div>
<div style="left:979px;top:327px;width:1px;height:161px;background:rgba(150,176,211,0.40);"></div>
<div style="left:1049px;top:327px;width:1px;height:161px;background:rgba(150,176,211,0.60);"></div>
<div style="left:1050px;top:327px;width:1px;height:161px;background:#96b0d3;"></div>
<div style="left:1127px;top:327px;width:1px;height:161px;background:#96b0d3;"></div>
<div style="left:1128px;top:327px;width:1px;height:161px;background:rgba(150,176,211,0.60);"></div>
<div style="left:835px;top:285px;width:293px;height:1px;background:rgba(30,30,34,0.10);"></div>
<div style="left:835px;top:286px;width:293px;height:1px;background:#1e1e22;"></div>
<div style="left:835px;top:287px;width:293px;height:1px;background:rgba(30,30,34,0.60);"></div>
<div style="left:835px;top:325px;width:293px;height:1px;background:rgba(30,30,34,0.20);"></div>
<div style="left:835px;top:326px;width:293px;height:1px;background:#1e1e22;"></div>
<div style="left:835px;top:327px;width:293px;height:1px;background:rgba(30,30,34,0.30);"></div>
<div style="left:834px;top:286px;width:1px;height:41px;background:rgba(30,30,34,0.60);"></div>
<div style="left:835px;top:286px;width:1px;height:41px;background:#1e1e22;"></div>
<div style="left:836px;top:286px;width:1px;height:41px;background:rgba(30,30,34,0.10);"></div>
<div style="left:905px;top:286px;width:1px;height:41px;background:rgba(30,30,34,0.20);"></div>
<div style="left:906px;top:286px;width:1px;height:41px;background:#1e1e22;"></div>
<div style="left:907px;top:286px;width:1px;height:41px;background:rgba(30,30,34,0.50);"></div>
<div style="left:977px;top:286px;width:1px;height:41px;background:rgba(30,30,34,0.30);"></div>
<div style="left:978px;top:286px;width:1px;height:41px;background:#1e1e22;"></div>
<div style="left:979px;top:286px;width:1px;height:41px;background:rgba(30,30,34,0.40);"></div>
<div style="left:1049px;top:286px;width:1px;height:41px;background:rgba(30,30,34,0.70);"></div>
<div style="left:1050px;top:286px;width:1px;height:41px;background:#1e1e22;"></div>
<div style="left:1126px;top:286px;width:1px;height:41px;background:rgba(30,30,34,0.20);"></div>
<div style="left:1127px;top:286px;width:1px;height:41px;background:#1e1e22;"></div>
<div style="left:1128px;top:286px;width:1px;height:41px;background:rgba(30,30,34,0.50);"></div>
<div class="t" style="left:835px;top:296px;width:71.5px;height:20px;line-height:20px;text-align:center;font-weight:bold;color:#0f243e;letter-spacing:-0.400px;">Code</div>
<div class="t" style="left:906.5px;top:287px;width:72px;height:20px;line-height:20px;text-align:center;font-weight:bold;color:#0f243e;letter-spacing:-0.100px;">Total</div>
<div class="t" style="left:906.5px;top:307px;width:72px;height:20px;line-height:20px;text-align:center;font-weight:bold;color:#0f243e;letter-spacing:-0.200px;">Hour</div>
<div class="t" style="left:978.5px;top:296px;width:71.5px;height:20px;line-height:20px;text-align:center;font-weight:bold;color:#0f243e;letter-spacing:-0.200px;">Cost</div>
<div class="t" style="left:1050px;top:296px;width:78px;height:20px;line-height:20px;text-align:center;font-weight:bold;color:#0f243e;letter-spacing:-0.100px;">Total</div>
<div class="t" style="left:835px;top:328px;width:71.5px;height:20px;line-height:20px;text-align:center;letter-spacing:-0.600px;">TNH</div>
<div class="t" style="left:906.5px;top:328px;width:69px;height:20px;line-height:20px;text-align:right;letter-spacing:0.009px;">62:45</div>
<div class="t" style="left:978.5px;top:328px;width:55px;height:20px;line-height:20px;text-align:right;letter-spacing:-0.035px;">$20.00</div>
<div class="t" style="left:1050px;top:328px;width:61px;height:20px;line-height:20px;text-align:right;letter-spacing:-0.035px;">$52.29</div>
<div class="t" style="left:835px;top:348px;width:71.5px;height:20px;line-height:20px;text-align:center;letter-spacing:-0.600px;">OT</div>
<div class="t" style="left:906.5px;top:348px;width:69px;height:20px;line-height:20px;text-align:right;letter-spacing:0.009px;">15:00</div>
<div class="t" style="left:978.5px;top:348px;width:55px;height:20px;line-height:20px;text-align:right;letter-spacing:-0.036px;">$2.00</div>
<div class="t" style="left:1050px;top:348px;width:61px;height:20px;line-height:20px;text-align:right;letter-spacing:-0.036px;">$1.25</div>
<div class="t" style="left:835px;top:368px;width:71.5px;height:20px;line-height:20px;text-align:center;letter-spacing:-0.600px;">V</div>
<div class="t" style="left:906.5px;top:368px;width:69px;height:20px;line-height:20px;text-align:right;letter-spacing:0.009px;">25:00</div>
<div class="t" style="left:978.5px;top:368px;width:55px;height:20px;line-height:20px;text-align:right;letter-spacing:-0.036px;">$1.00</div>
<div class="t" style="left:1050px;top:368px;width:61px;height:20px;line-height:20px;text-align:right;letter-spacing:-0.036px;">$1.04</div>
<div class="t" style="left:835px;top:388px;width:71.5px;height:20px;line-height:20px;text-align:center;letter-spacing:-0.600px;">BT</div>
<div class="t" style="left:906.5px;top:388px;width:69px;height:20px;line-height:20px;text-align:right;letter-spacing:0.022px;">0:00</div>
<div class="t" style="left:978.5px;top:388px;width:55px;height:20px;line-height:20px;text-align:right;letter-spacing:-0.036px;">$1.00</div>
<div class="t" style="left:1050px;top:388px;width:61px;height:20px;line-height:20px;text-align:right;letter-spacing:-0.036px;">$0.00</div>
<div class="t" style="left:835px;top:408px;width:71.5px;height:20px;line-height:20px;text-align:center;letter-spacing:-0.600px;">L</div>
<div class="t" style="left:906.5px;top:408px;width:69px;height:20px;line-height:20px;text-align:right;letter-spacing:0.022px;">0:00</div>
<div class="t" style="left:978.5px;top:408px;width:55px;height:20px;line-height:20px;text-align:right;letter-spacing:-0.036px;">$0.00</div>
<div class="t" style="left:1050px;top:408px;width:61px;height:20px;line-height:20px;text-align:right;letter-spacing:-0.036px;">$0.00</div>
<div class="t" style="left:835px;top:428px;width:71.5px;height:20px;line-height:20px;text-align:center;letter-spacing:-0.600px;">S</div>
<div class="t" style="left:906.5px;top:428px;width:69px;height:20px;line-height:20px;text-align:right;letter-spacing:0.022px;">0:00</div>
<div class="t" style="left:978.5px;top:428px;width:55px;height:20px;line-height:20px;text-align:right;letter-spacing:-0.036px;">$1.00</div>
<div class="t" style="left:1050px;top:428px;width:61px;height:20px;line-height:20px;text-align:right;letter-spacing:-0.036px;">$0.00</div>
<div class="t" style="left:835px;top:448px;width:71.5px;height:20px;line-height:20px;text-align:center;letter-spacing:-0.600px;">SL</div>
<div class="t" style="left:906.5px;top:448px;width:69px;height:20px;line-height:20px;text-align:right;letter-spacing:0.022px;">0:00</div>
<div class="t" style="left:978.5px;top:448px;width:55px;height:20px;line-height:20px;text-align:right;letter-spacing:-0.036px;">$0.00</div>
<div class="t" style="left:1050px;top:448px;width:61px;height:20px;line-height:20px;text-align:right;letter-spacing:-0.036px;">$0.00</div>
<div class="t" style="left:835px;top:468px;width:71.5px;height:20px;line-height:20px;text-align:center;letter-spacing:-0.482px;">A</div>
<div class="t" style="left:906.5px;top:468px;width:69px;height:20px;line-height:20px;text-align:right;letter-spacing:0.022px;">0:00</div>
<div class="t" style="left:978.5px;top:468px;width:55px;height:20px;line-height:20px;text-align:right;letter-spacing:-0.036px;">$0.00</div>
<div class="t" style="left:1050px;top:468px;width:61px;height:20px;line-height:20px;text-align:right;letter-spacing:-0.036px;">$0.00</div>
<div style="left:835px;top:547px;width:215px;height:19px;background:#c5d5eb;"></div>
<div style="left:835px;top:545px;width:293px;height:1px;background:rgba(30,30,34,0.10);"></div>
<div style="left:835px;top:546px;width:293px;height:1px;background:#1e1e22;"></div>
<div style="left:835px;top:547px;width:293px;height:1px;background:rgba(30,30,34,0.60);"></div>
<div style="left:835px;top:565px;width:293px;height:1px;background:rgba(30,30,34,0.40);"></div>
<div style="left:835px;top:566px;width:293px;height:1px;background:#1e1e22;"></div>
<div style="left:835px;top:567px;width:293px;height:1px;background:rgba(30,30,34,0.20);"></div>
<div style="left:834px;top:546px;width:1px;height:21px;background:rgba(30,30,34,0.70);"></div>
<div style="left:835px;top:546px;width:1px;height:21px;background:#1e1e22;"></div>
<div style="left:1049px;top:546px;width:1px;height:21px;background:rgba(30,30,34,0.80);"></div>
<div style="left:1050px;top:546px;width:1px;height:21px;background:rgba(30,30,34,0.90);"></div>
<div style="left:1126px;top:546px;width:1px;height:21px;background:rgba(30,30,34,0.20);"></div>
<div style="left:1127px;top:546px;width:1px;height:21px;background:#1e1e22;"></div>
<div style="left:1128px;top:546px;width:1px;height:21px;background:rgba(30,30,34,0.50);"></div>
<div class="t" style="left:835px;top:547px;width:215px;height:20px;line-height:20px;text-align:center;font-weight:bold;color:#111;letter-spacing:-0.300px;">Total</div>
<div class="t" style="left:1050px;top:547px;width:62px;height:20px;line-height:20px;text-align:right;font-weight:bold;color:#111;letter-spacing:-0.300px;">$54.58</div>
</body></html>
